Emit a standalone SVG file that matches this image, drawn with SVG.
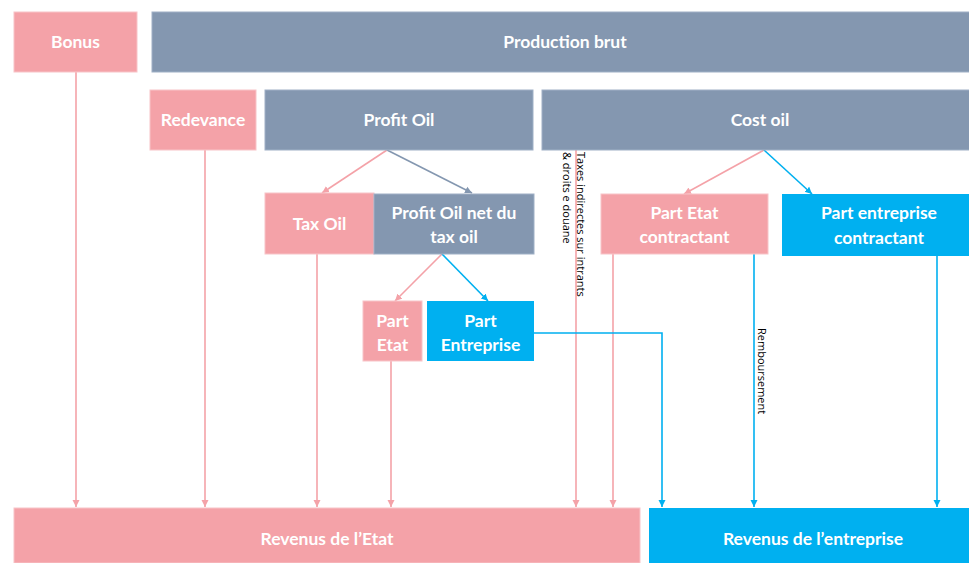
<svg xmlns="http://www.w3.org/2000/svg" width="969" height="563" viewBox="0 0 969 563">
<style>
.p{fill:#F4A2A8;stroke:#F8C4C8;stroke-width:1}
.g{fill:#8497B0;stroke:#9FB0C6;stroke-width:1}
.b{fill:#00B0F0}
.t{font-family:Lato,"Open Sans","Liberation Sans",sans-serif;font-weight:bold;font-size:17.5px;fill:#fff;text-anchor:middle}
.s{font-family:"Open Sans","Liberation Sans",sans-serif;font-size:11px;fill:#000}
.lp{stroke:#F4A2A8;stroke-width:1.6;fill:none}
.lg{stroke:#8497B0;stroke-width:1.6;fill:none}
.lb{stroke:#00B0F0;stroke-width:1.6;fill:none}
</style>
<defs>
<marker id="ap" markerWidth="8" markerHeight="8" refX="7" refY="4" orient="auto" markerUnits="userSpaceOnUse"><path d="M0,0.5 L7,4 L0,7.5 Z" fill="#F4A2A8"/></marker>
<marker id="ag" markerWidth="8" markerHeight="8" refX="7" refY="4" orient="auto" markerUnits="userSpaceOnUse"><path d="M0,0.5 L7,4 L0,7.5 Z" fill="#8497B0"/></marker>
<marker id="ab" markerWidth="8" markerHeight="8" refX="7" refY="4" orient="auto" markerUnits="userSpaceOnUse"><path d="M0,0.5 L7,4 L0,7.5 Z" fill="#00B0F0"/></marker>
</defs>
<rect width="969" height="563" fill="#fff"/>
<g id="connectors">
<path class="lp" d="M76,72 V507" marker-end="url(#ap)"/>
<path class="lp" d="M205,150 V507" marker-end="url(#ap)"/>
<path class="lp" d="M317,254 V507" marker-end="url(#ap)"/>
<path class="lp" d="M391,361 V507" marker-end="url(#ap)"/>
<path class="lp" d="M576,150 V507" marker-end="url(#ap)"/>
<path class="lp" d="M613,254 V507" marker-end="url(#ap)"/>
<path class="lb" d="M534,333 H662 V507" marker-end="url(#ab)"/>
<path class="lb" d="M754,254 V507" marker-end="url(#ab)"/>
<path class="lb" d="M937,256 V507" marker-end="url(#ab)"/>
<path class="lp" d="M387,150 L322,193" marker-end="url(#ap)"/>
<path class="lg" d="M387,150 L472,193" marker-end="url(#ag)"/>
<path class="lp" d="M442,254 L395,301" marker-end="url(#ap)"/>
<path class="lb" d="M442,254 L488,301" marker-end="url(#ab)"/>
<path class="lp" d="M764,150 L684,194" marker-end="url(#ap)"/>
<path class="lb" d="M764,150 L812,194" marker-end="url(#ab)"/>
<text class="s" transform="translate(577,152) rotate(90)">Taxes indirectes sur intrants</text>
<text class="s" transform="translate(563,152) rotate(90)">&amp; droits e douane</text>
<text class="s" transform="translate(758,328) rotate(90)">Remboursement</text>
</g>
<g id="bonus"><rect class="p" x="14" y="12" width="123" height="60"/><text class="t" x="75.5" y="48">Bonus</text></g>
<g id="production"><rect class="g" x="152" y="12" width="826" height="60"/><text class="t" x="565" y="48">Production brut</text></g>
<g id="redevance"><rect class="p" x="150" y="90" width="106" height="60"/><text class="t" x="203" y="126">Redevance</text></g>
<g id="profitoil"><rect class="g" x="265" y="90" width="268" height="60"/><text class="t" x="399" y="126">Profit Oil</text></g>
<g id="costoil"><rect class="g" x="542" y="90" width="436" height="60"/><text class="t" x="760" y="126">Cost oil</text></g>
<g id="taxoil"><rect class="p" x="265" y="193" width="109" height="61"/><text class="t" x="319.5" y="230">Tax Oil</text></g>
<g id="profitnet"><rect class="g" x="374" y="194" width="160" height="60"/><text class="t" x="454" y="219">Profit Oil net du</text><text class="t" x="454" y="243">tax oil</text></g>
<g id="partetat"><rect class="p" x="363" y="301" width="59" height="60"/><text class="t" x="392.5" y="327">Part</text><text class="t" x="392.5" y="351">Etat</text></g>
<g id="partentreprise"><rect class="b" x="427" y="301" width="107" height="60"/><text class="t" x="480.5" y="327">Part</text><text class="t" x="480.5" y="351">Entreprise</text></g>
<g id="partetatcontractant"><rect class="p" x="601" y="194" width="167" height="60"/><text class="t" x="684.5" y="219">Part Etat</text><text class="t" x="684.5" y="243">contractant</text></g>
<g id="partentreprisecontractant"><rect class="b" x="782" y="194" width="195" height="62"/><text class="t" x="879" y="219">Part entreprise</text><text class="t" x="879" y="244">contractant</text></g>
<g id="revenusetat"><rect class="p" x="14" y="508" width="626" height="55"/><text class="t" x="327" y="545">Revenus de l’Etat</text></g>
<g id="revenusentreprise"><rect class="b" x="649" y="508" width="328" height="55"/><text class="t" x="813" y="545">Revenus de l’entreprise</text></g>
</svg>
